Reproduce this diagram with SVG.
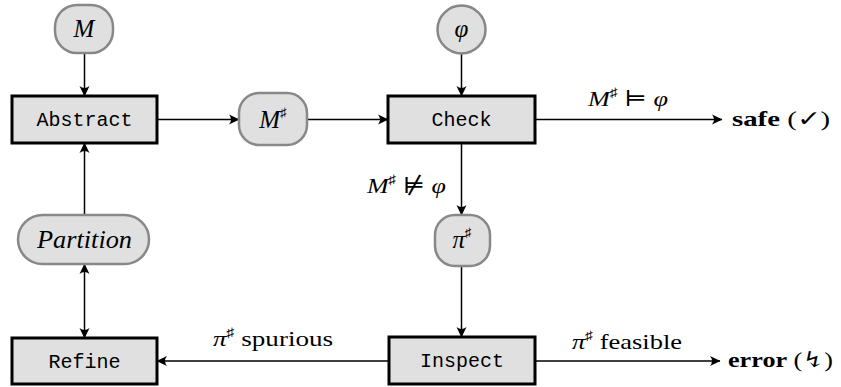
<svg xmlns="http://www.w3.org/2000/svg" width="841" height="387" viewBox="0 0 841 387">
<style>
  .box { fill: #e0e0e0; stroke: #000; stroke-width: 3; }
  .data { fill: #e0e0e0; stroke: #888; stroke-width: 2.5; }
  .mono { font-family: "Liberation Mono", "DejaVu Sans Mono", monospace; font-size: 20px; fill: #000; }
  .math { font-family: "Liberation Serif", "DejaVu Serif", serif; font-style: italic; font-size: 25px; fill: #000; }
  .lbl { font-family: "Liberation Serif", "DejaVu Serif", serif; font-size: 22px; fill: #000; }
  .it { font-style: italic; }
  .b { font-weight: bold; }
  .sup { font-style: normal; font-size: 13px; }
  .edge { stroke: #000; stroke-width: 1.5; fill: none; marker-end: url(#ah); }
  .dbl { marker-start: url(#ah); }
</style>
<defs>
  <marker id="ah" viewBox="-11 -5 12 10" refX="0" refY="0" markerWidth="12" markerHeight="10" markerUnits="userSpaceOnUse" orient="auto-start-reverse" overflow="visible">
    <path d="M0.5,0 L-10,-5 Q-6,0 -10,5 Z" fill="#000"/>
  </marker>
</defs>

<g id="connectors">
  <line class="edge" x1="84.5" y1="53" x2="84.5" y2="96"/>
  <line class="edge" x1="157" y1="119.5" x2="239" y2="119.5"/>
  <line class="edge" x1="307" y1="119.5" x2="388" y2="119.5"/>
  <line class="edge" x1="461.5" y1="54" x2="461.5" y2="96"/>
  <line class="edge" x1="535" y1="119.5" x2="722" y2="119.5"/>
  <line class="edge" x1="461.5" y1="143" x2="461.5" y2="215"/>
  <line class="edge" x1="461.5" y1="266" x2="461.5" y2="337"/>
  <line class="edge" x1="535" y1="361" x2="720" y2="361"/>
  <line class="edge" x1="389" y1="361" x2="157" y2="361"/>
  <line class="edge" x1="84.5" y1="215" x2="84.5" y2="143"/>
  <line class="edge dbl" x1="84.5" y1="264" x2="84.5" y2="338"/>
</g>

<g id="labels">
  <text class="lbl" x="588" y="106" textLength="80" lengthAdjust="spacingAndGlyphs"><tspan class="it">M</tspan><tspan class="sup" dy="-9">♯</tspan><tspan dy="9"> ⊨ </tspan><tspan class="it">φ</tspan></text>
  <text class="lbl" x="732" y="126" textLength="98" lengthAdjust="spacingAndGlyphs"><tspan class="b">safe</tspan> (✓)</text>
  <text class="lbl" x="367" y="193" textLength="79" lengthAdjust="spacingAndGlyphs"><tspan class="it">M</tspan><tspan class="sup" dy="-9">♯</tspan><tspan dy="9"> ⊭ </tspan><tspan class="it">φ</tspan></text>
  <text class="lbl" x="213" y="346" textLength="120" lengthAdjust="spacingAndGlyphs"><tspan class="it">π</tspan><tspan class="sup" dy="-9">♯</tspan><tspan dy="9"> spurious</tspan></text>
  <text class="lbl" x="572" y="349" textLength="110" lengthAdjust="spacingAndGlyphs"><tspan class="it">π</tspan><tspan class="sup" dy="-9">♯</tspan><tspan dy="9"> feasible</tspan></text>
  <text class="lbl" x="728" y="367" textLength="105" lengthAdjust="spacingAndGlyphs"><tspan class="b">error</tspan> (↯)</text>
</g>

<g id="node-M">
  <rect class="data" x="55" y="5" width="58" height="48" rx="22"/>
  <text class="math" x="84" y="37" text-anchor="middle">M</text>
</g>
<g id="node-phi">
  <circle class="data" cx="461.5" cy="29.5" r="24"/>
  <text class="math" x="461.5" y="37" text-anchor="middle">φ</text>
</g>
<g id="node-Abstract">
  <rect class="box" x="12" y="96" width="145" height="47"/>
  <text class="mono" x="84.5" y="126" text-anchor="middle">Abstract</text>
</g>
<g id="node-Msharp">
  <rect class="data" x="239" y="93" width="68" height="52" rx="20"/>
  <text class="math" x="273" y="128" text-anchor="middle">M<tspan class="sup" font-size="15" dy="-11">♯</tspan></text>
</g>
<g id="node-Check">
  <rect class="box" x="388" y="96" width="147" height="47"/>
  <text class="mono" x="461.5" y="126" text-anchor="middle">Check</text>
</g>
<g id="node-pisharp">
  <rect class="data" x="435" y="215" width="55" height="51" rx="20"/>
  <text class="math" x="462" y="248" text-anchor="middle">π<tspan class="sup" font-size="15" dy="-11">♯</tspan></text>
</g>
<g id="node-Partition">
  <rect class="data" x="18" y="215" width="131" height="49" rx="24.5"/>
  <text class="math" x="37" y="248" textLength="95" lengthAdjust="spacingAndGlyphs">Partition</text>
</g>
<g id="node-Refine">
  <rect class="box" x="12" y="338" width="145" height="46"/>
  <text class="mono" x="84.5" y="368" text-anchor="middle">Refine</text>
</g>
<g id="node-Inspect">
  <rect class="box" x="389" y="337" width="146" height="47"/>
  <text class="mono" x="462" y="367" text-anchor="middle">Inspect</text>
</g>
</svg>
